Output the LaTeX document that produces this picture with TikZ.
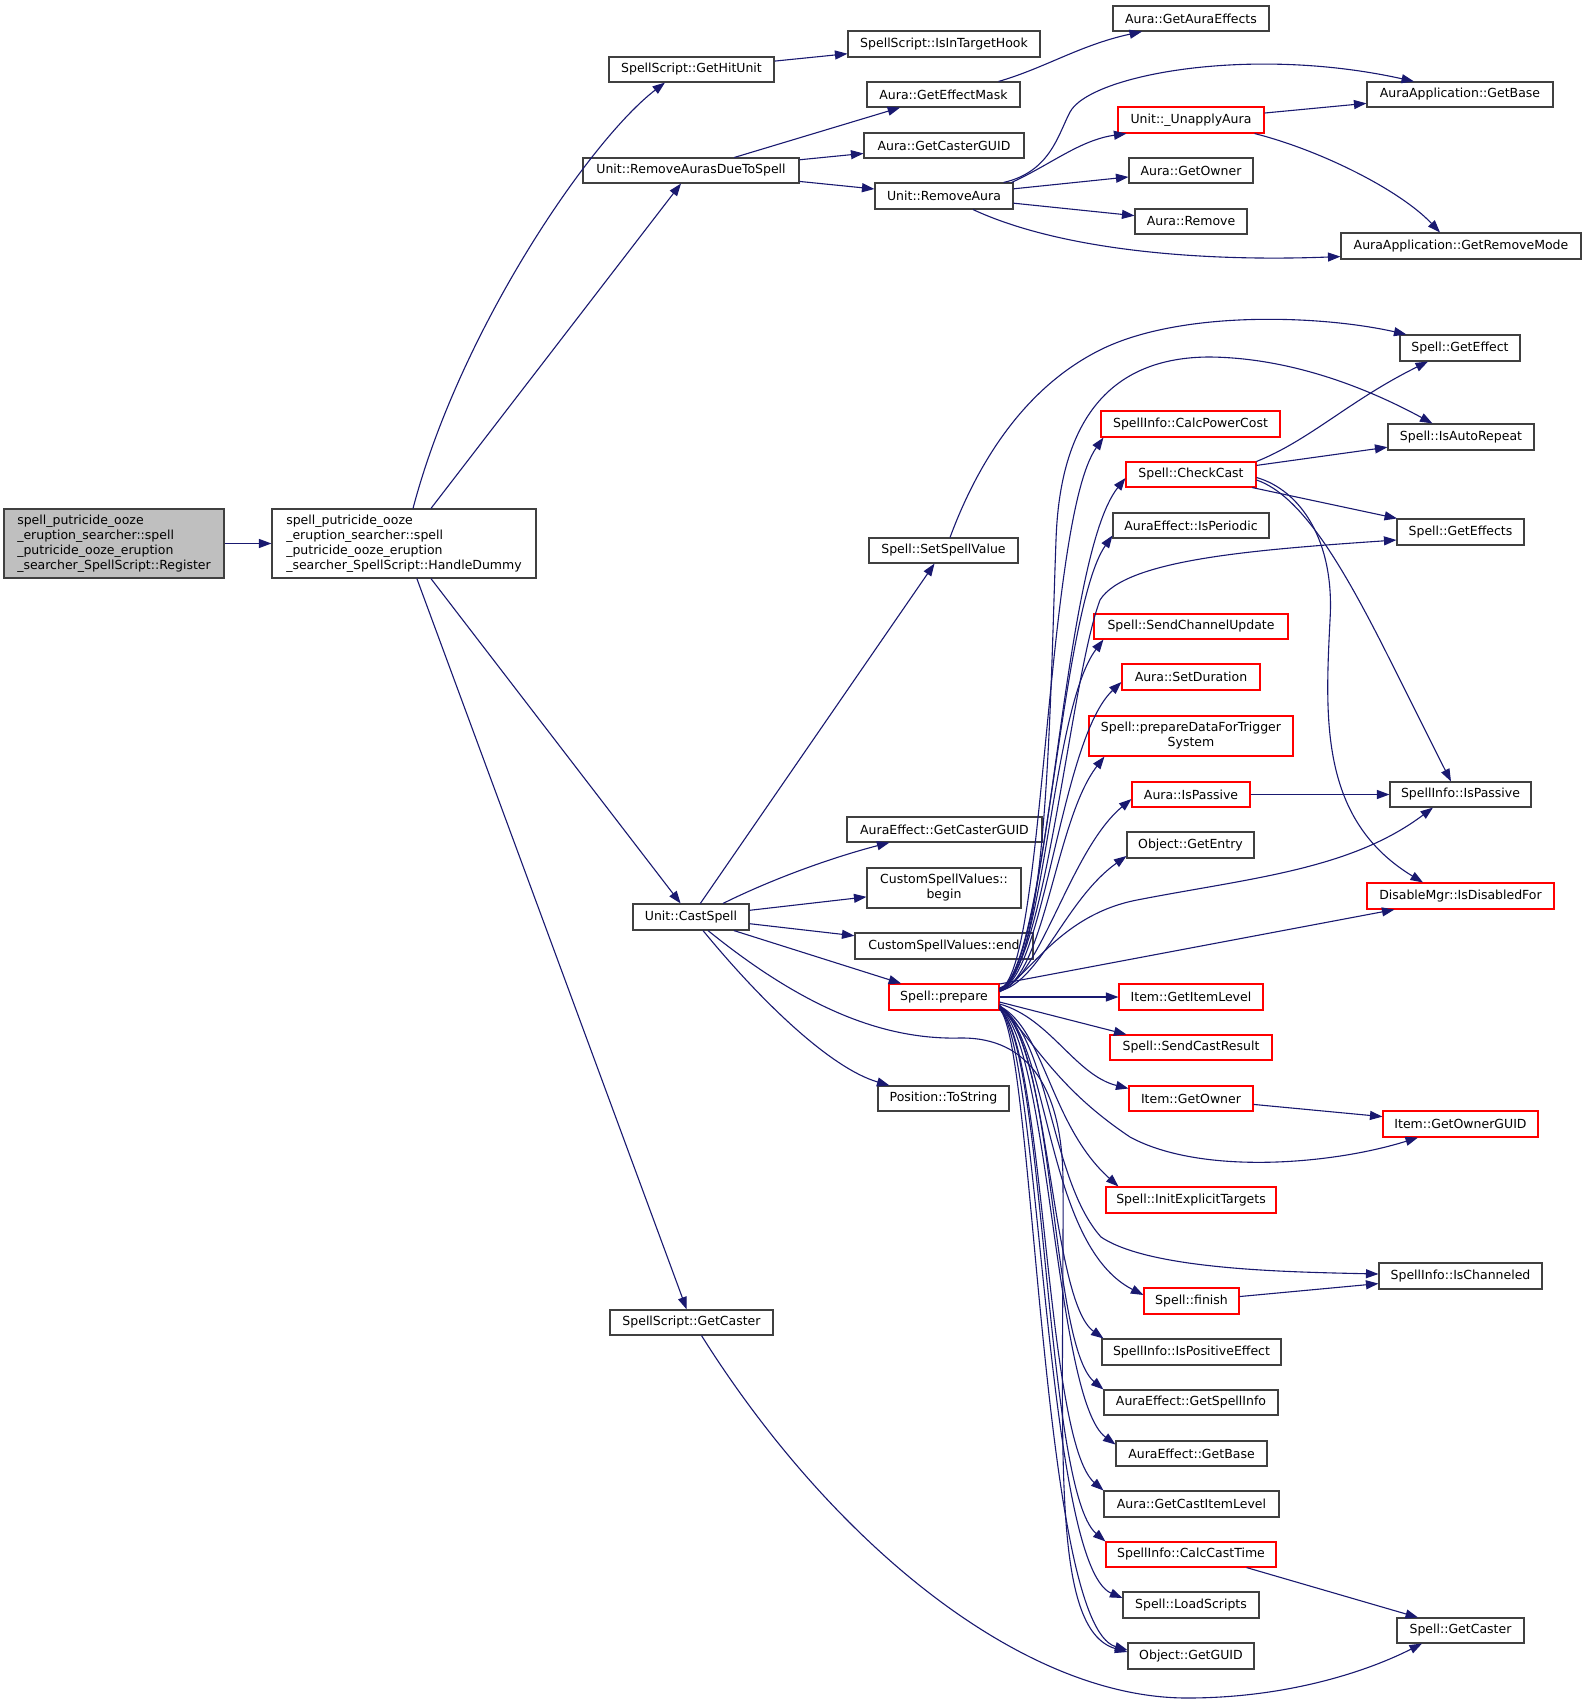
\documentclass[tikz,border=0pt]{standalone}
\usepackage{fontspec}
\setmainfont{DejaVu Sans}
\usetikzlibrary{arrows.meta,calc}
\definecolor{edgec}{HTML}{191970}
\definecolor{boxc}{HTML}{404040}
\definecolor{regfill}{HTML}{BFBFBF}
\tikzset{
  box/.style={draw=boxc,line width=1.1pt,fill=white,inner sep=0pt,text=black,
    font=\fontsize{12.5}{15}\selectfont},
  redbox/.style={draw=red},
  e/.style={draw=edgec,line width=1.1pt,-{Triangle[length=12.5pt,width=9pt]}}
}
\newcommand\bx[7][]{\node[box,#1,minimum width={(#4-#2)*1pt},minimum height={(#5-#3)*1pt}] (#6) at ({(#2+#4)/2},{(#3+#5)/2}) {#7};}
\begin{document}
\begin{tikzpicture}[x=1pt,y=-1pt]
\fill[white] (0,0) rectangle (1585,1705);
\useasboundingbox (0,0) rectangle (1585,1705);
% nodes
\bx[fill=regfill,align=left]{4}{509}{224}{578}{reg}{spell\_putricide\_ooze\\\_eruption\_searcher::spell\\\_putricide\_ooze\_eruption\\\_searcher\_SpellScript::Register}
\bx[align=left]{272}{509}{536}{578}{hd}{spell\_putricide\_ooze\\\_eruption\_searcher::spell\\\_putricide\_ooze\_eruption\\\_searcher\_SpellScript::HandleDummy}
\bx{609}{57}{774}{82}{ghu}{SpellScript::GetHitUnit}
\bx{848}{31}{1040}{57}{iith}{SpellScript::IsInTargetHook}
\bx{867}{82}{1020}{107}{gem}{Aura::GetEffectMask}
\bx{864}{133}{1024}{158}{agcg}{Aura::GetCasterGUID}
\bx{583}{158}{799}{183}{radts}{Unit::RemoveAurasDueToSpell}
\bx{875}{183}{1013}{209}{ra}{Unit::RemoveAura}
\bx{1113}{6}{1269}{31}{gae}{Aura::GetAuraEffects}
\bx{1367}{82}{1553}{107}{aagb}{AuraApplication::GetBase}
\bx[redbox]{1118}{107}{1264}{133}{ua}{Unit::\_UnapplyAura}
\bx{1129}{158}{1253}{183}{ago}{Aura::GetOwner}
\bx{1135}{209}{1247}{234}{arm}{Aura::Remove}
\bx{1341}{233}{1581}{259}{grm}{AuraApplication::GetRemoveMode}
\bx{1400}{335}{1520}{361}{sge}{Spell::GetEffect}
\bx{1388}{424}{1534}{450}{iar}{Spell::IsAutoRepeat}
\bx[redbox]{1101}{411}{1280}{437}{cpc}{SpellInfo::CalcPowerCost}
\bx[redbox]{1126}{462}{1256}{487}{cc}{Spell::CheckCast}
\bx{1113}{513}{1269}{538}{iper}{AuraEffect::IsPeriodic}
\bx{1397}{519}{1524}{545}{sges}{Spell::GetEffects}
\bx{869}{538}{1018}{563}{ssv}{Spell::SetSpellValue}
\bx[redbox]{1094}{614}{1288}{639}{scu}{Spell::SendChannelUpdate}
\bx[redbox]{1122}{664}{1260}{690}{asd}{Aura::SetDuration}
\bx[redbox,align=center]{1089}{716}{1293}{756}{pdts}{Spell::prepareDataForTrigger\\System}
\bx[redbox]{1132}{782}{1250}{807}{aip}{Aura::IsPassive}
\bx{1390}{782}{1531}{807}{sip}{SpellInfo::IsPassive}
\bx{847}{817}{1042}{842}{aegcg}{AuraEffect::GetCasterGUID}
\bx{1127}{832}{1254}{858}{oge}{Object::GetEntry}
\bx[align=center]{867}{868}{1021}{908}{csvb}{CustomSpellValues::\\begin}
\bx[redbox]{1367}{883}{1554}{909}{dmid}{DisableMgr::IsDisabledFor}
\bx{855}{933}{1033}{959}{csve}{CustomSpellValues::end}
\bx{633}{904}{749}{930}{cs}{Unit::CastSpell}
\bx[redbox]{889}{984}{999}{1010}{prep}{Spell::prepare}
\bx{878}{1086}{1009}{1111}{pts}{Position::ToString}
\bx[redbox]{1119}{984}{1263}{1010}{igil}{Item::GetItemLevel}
\bx[redbox]{1110}{1035}{1272}{1060}{scr}{Spell::SendCastResult}
\bx[redbox]{1129}{1086}{1253}{1111}{igo}{Item::GetOwner}
\bx[redbox]{1383}{1111}{1538}{1137}{igog}{Item::GetOwnerGUID}
\bx[redbox]{1106}{1187}{1276}{1213}{iet}{Spell::InitExplicitTargets}
\bx{1379}{1263}{1542}{1289}{sich}{SpellInfo::IsChanneled}
\bx[redbox]{1144}{1288}{1239}{1314}{fin}{Spell::finish}
\bx{1102}{1339}{1281}{1365}{ipe}{SpellInfo::IsPositiveEffect}
\bx{1104}{1390}{1278}{1415}{aegsi}{AuraEffect::GetSpellInfo}
\bx{1116}{1441}{1267}{1466}{aegb}{AuraEffect::GetBase}
\bx{1104}{1491}{1279}{1517}{agcil}{Aura::GetCastItemLevel}
\bx[redbox]{1106}{1542}{1276}{1567}{cct}{SpellInfo::CalcCastTime}
\bx{1123}{1592}{1259}{1618}{sls}{Spell::LoadScripts}
\bx{1397}{1618}{1524}{1643}{sgc}{Spell::GetCaster}
\bx{1128}{1643}{1254}{1669}{ogg}{Object::GetGUID}
\bx{610}{1310}{773}{1335}{ssgc}{SpellScript::GetCaster}
% edges: left part
\draw[e] (reg) -- (hd);
\draw[e] ($(hd.north)+(9,0)$) .. controls (460,330) and (590,140) .. ($(ghu.south)+(-26.5,0)$);
\draw[e] (hd) -- (radts);
\draw[e] (hd) -- (cs);
\draw[e] (hd) -- (ssgc);
\draw[e] (ghu) -- (iith);
\draw[e] (radts) -- (gem);
\draw[e] (radts) -- (agcg);
\draw[e] (radts) -- (ra);
\draw[e] ($(gem.north east)+(-22,0)$) .. controls (1045,68) and (1080,45) .. ($(gae.south)+(-49,0)$);
% RemoveAura
\draw[e] ($(ra.north east)+(-10,0)$) .. controls (1050,172) and (1058,135) .. (1070,112) .. controls (1090,75) and (1250,45) .. ($(aagb.north)+(-46,0)$);
\draw[e] ($(ra.north east)+(-2,0)$) .. controls (1050,165) and (1080,140) .. ($(ua.south west)+(9,0)$);
\draw[e] (ra) -- (ago);
\draw[e] (ra) -- (arm);
\draw[e] ($(ra.south)+(29,0)$) .. controls (1060,250) and (1200,262) .. ($(grm.south west)+(0,-3)$);
\draw[e] (ua) -- (aagb);
\draw[e] ($(ua.south east)+(-10,0)$) .. controls (1320,150) and (1400,190) .. ($(grm.north)+(-21,0)$);
% CastSpell
\draw[e] (cs) -- (ssv);
\draw[e] ($(cs.north)+(32,0)$) .. controls (770,880) and (830,858) .. ($(aegcg.south west)+(43,0)$);
\draw[e] (cs) -- (csvb);
\draw[e] (cs) -- (csve);
\draw[e] (cs) -- (prep);
\draw[e] ($(cs.south)+(12,0)$) .. controls (760,1000) and (830,1068) .. ($(pts.north west)+(12,0)$);
\draw[e] ($(cs.south)+(17,0)$) .. controls (800,1005) and (880,1040) .. (960,1038) .. controls (1030,1037) and (1062,1090) .. (1063,1180) .. controls (1064,1450) and (1050,1630) .. ($(ogg.west)+(0,-4)$);
% SetSpellValue, CheckCast
\draw[e] ($(ssv.north)+(6.5,0)$) .. controls (975,470) and (1020,390) .. (1100,350) .. controls (1180,310) and (1320,315) .. ($(sge.north west)+(7,0)$);
\draw[e] (cc.north east) .. controls (1310,440) and (1350,400) .. ($(sge.south)+(-32,0)$);
\draw[e] (cc) -- (iar);
\draw[e] (cc) -- (sges);
\draw[e] ($(cc.east)+(0,5.5)$) .. controls (1300,495) and (1340,560) .. (1390,660) .. controls (1420,720) and (1440,760) .. ($(sip.north)+(-9.5,0)$);
\draw[e] ($(cc.east)+(0,3)$) .. controls (1300,490) and (1335,540) .. (1330,620) .. controls (1325,720) and (1320,820) .. ($(dmid.north)+(-37.5,0)$);
\draw[e] (aip) -- (sip);
\draw[e] (igo) -- (igog);
\draw[e] (fin) -- (sich);
\draw[e] ($(cct.south east)+(-30,0)$) -- ($(sgc.north)+(-42.5,0)$);
\draw[e] ($(ssgc.south)+(10,0)$) .. controls (830,1540) and (1020,1698) .. (1187,1698) .. controls (1290,1698) and (1370,1670) .. ($(sgc.south)+(-38.5,0)$);
% Spell::prepare bundle (upwards)
\draw[e] ($(prep.east)+(0,-9)$) .. controls (1048,975) and (1050,700) .. (1056,540) .. controls (1060,420) and (1110,357) .. (1210,357) .. controls (1300,358) and (1380,395) .. ($(iar.north west)+(45,0)$);
\draw[e] ($(prep.east)+(0,-8)$) .. controls (1045,975) and (1045,520) .. ($(cpc.south west)+(3,0)$);
\draw[e] ($(prep.east)+(0,-8)$) .. controls (1050,975) and (1060,560) .. ($(cc.west)+(0,3.5)$);
\draw[e] ($(prep.east)+(0,-8)$) .. controls (1045,975) and (1060,610) .. ($(iper.west)+(0,10)$);
\draw[e] ($(prep.east)+(0,-8)$) .. controls (1045,975) and (1070,680) .. (1100,600) .. controls (1125,560) and (1250,550) .. ($(sges.west)+(0,8)$);
\draw[e] ($(prep.east)+(0,-7)$) .. controls (1045,975) and (1050,710) .. ($(scu.south west)+(10,0)$);
\draw[e] ($(prep.east)+(0,-7)$) .. controls (1045,978) and (1060,740) .. ($(asd.west)+(0,5)$);
\draw[e] ($(prep.east)+(0,-6)$) .. controls (1045,978) and (1055,820) .. ($(pdts.south west)+(16,0)$);
\draw[e] ($(prep.east)+(0,-6)$) .. controls (1040,980) and (1070,850) .. ($(aip.west)+(0,4.5)$);
\draw[e] ($(prep.east)+(0,-6)$) .. controls (1040,982) and (1065,900) .. ($(oge.west)+(0,11)$);
\draw[e] ($(prep.east)+(0,-5)$) .. controls (1030,975) and (1060,915) .. (1137,900) .. controls (1250,878) and (1350,870) .. ($(sip.south)+(-27.5,0)$);
\draw[e] ($(prep.east)+(0,-13)$) -- ($(dmid.south west)+(28,0)$);
% Spell::prepare bundle (right / downwards)
\draw[e] (prep) -- (igil);
\draw[e] ($(prep.east)+(0,5)$) -- ($(scr.north west)+(17,0)$);
\draw[e] ($(prep.east)+(0,7)$) .. controls (1050,1018) and (1075,1075) .. ($(igo.west)+(0,-10)$);
\draw[e] ($(prep.east)+(0,8)$) .. controls (1040,1050) and (1060,1090) .. (1130,1137) .. controls (1200,1175) and (1330,1165) .. ($(igog.south)+(-42.5,0)$);
\draw[e] ($(prep.east)+(0,9)$) .. controls (1045,1030) and (1050,1125) .. ($(iet.north west)+(13,0)$);
\draw[e] ($(prep.east)+(0,9)$) .. controls (1050,1040) and (1050,1180) .. (1101,1237) .. controls (1150,1270) and (1290,1272) .. ($(sich.west)+(0,-2)$);
\draw[e] ($(prep.east)+(0,10)$) .. controls (1050,1040) and (1045,1245) .. ($(fin.west)+(0,-6)$);
\draw[e] ($(prep.east)+(0,10)$) .. controls (1050,1040) and (1050,1300) .. ($(ipe.north west)+(2,0)$);
\draw[e] ($(prep.east)+(0,11)$) .. controls (1055,1040) and (1050,1345) .. (aegsi.north west);
\draw[e] ($(prep.east)+(0,11)$) .. controls (1050,1045) and (1055,1400) .. ($(aegb.west)+(0,-9)$);
\draw[e] ($(prep.east)+(0,12)$) .. controls (1045,1045) and (1045,1440) .. (agcil.north west);
\draw[e] ($(prep.east)+(0,12)$) .. controls (1045,1045) and (1045,1490) .. (cct.north west);
\draw[e] ($(prep.east)+(0,12)$) .. controls (1040,1045) and (1045,1565) .. ($(sls.west)+(0,-7)$);
\draw[e] ($(prep.east)+(0,12)$) .. controls (1035,1045) and (1040,1625) .. ($(ogg.west)+(0,-6)$);
\end{tikzpicture}
\end{document}
